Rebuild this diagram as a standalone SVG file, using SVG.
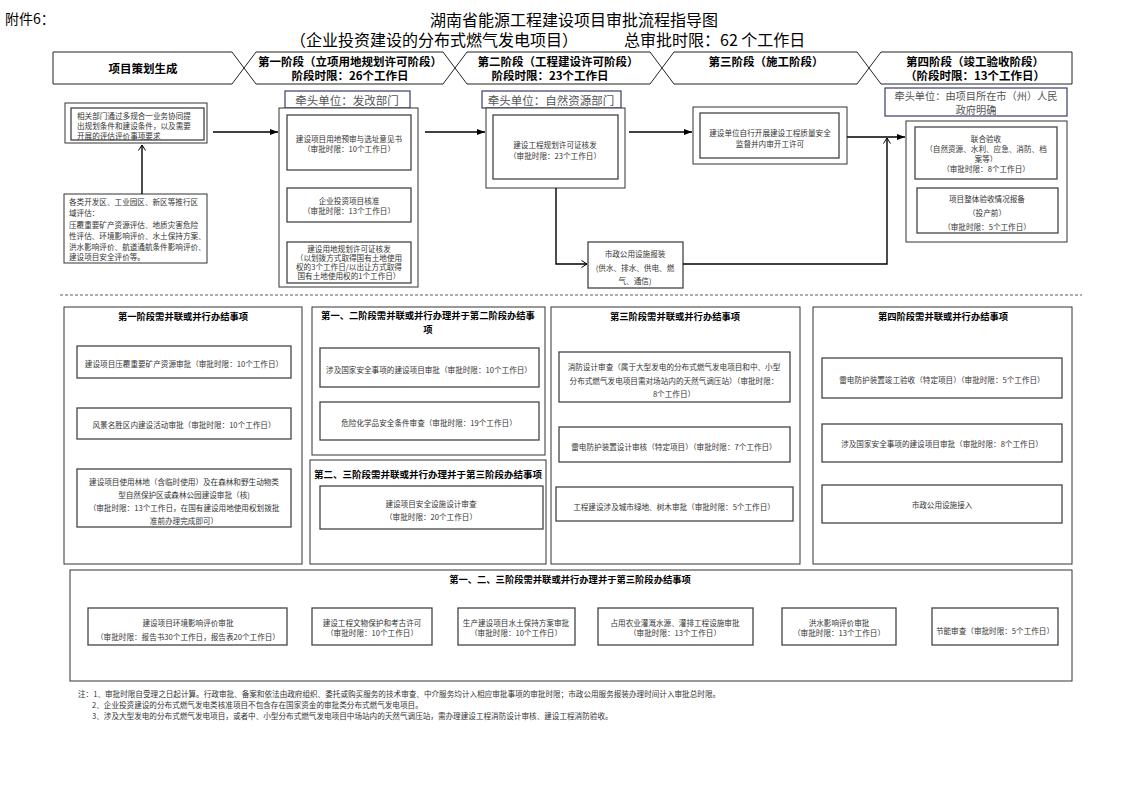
<svg xmlns="http://www.w3.org/2000/svg" width="1122" height="793" viewBox="0 0 1122 793">
<style>
text{font-family:"Noto Sans CJK SC","Liberation Sans",sans-serif;dominant-baseline:central}
.s{font-size:7.6px;fill:#333;text-anchor:middle}
.sl{font-size:7.6px;fill:#333;text-anchor:start}
.h{font-size:11.5px;font-weight:bold;fill:#000;text-anchor:middle}
.bt{font-size:9.3px;font-weight:bold;fill:#000;text-anchor:middle}
.lead{font-size:11.5px;fill:#555;text-anchor:middle}
.box{fill:#fff;stroke:#333;stroke-width:1}
.ibox{fill:#fff;stroke:#444;stroke-width:1.3}
.lbox{fill:#fff;stroke:#3a3a6e;stroke-width:1.2}
.stage{fill:#fff;stroke:#222;stroke-width:1}
.conn{fill:none;stroke:#000;stroke-width:1.4}
</style>
<defs>
<marker id="af" markerWidth="8" markerHeight="6" refX="8" refY="3" orient="auto" markerUnits="userSpaceOnUse"><path d="M0,0 L8,3 L0,6 z" fill="#000"/></marker>
<marker id="ao" markerWidth="7" markerHeight="8" refX="6" refY="4" orient="auto" markerUnits="userSpaceOnUse"><path d="M0.5,0.5 L6,4 L0.5,7.5" fill="none" stroke="#000" stroke-width="1"/></marker>
</defs>
<rect width="1122" height="793" fill="#fff"/>

<g id="header">
<text x="5" y="18" style="font-size:14px;fill:#000">附件6：</text>
<text x="574" y="19" style="font-size:16px;fill:#000;text-anchor:middle">湖南省能源工程建设项目审批流程指导图</text>
<text y="39" style="font-size:16px;fill:#000"><tspan x="290">（企业投资建设的分布式燃气发电项目）</tspan><tspan x="624">总审批时限：62 个工作日</tspan></text>
</g>

<g id="stage0"><path class="stage" d="M53,52 H232 L244,68 L232,84 H53 Z"/><text class="h" x="143" y="68">项目策划生成</text></g>
<g id="stage1"><path class="stage" d="M244,68 L256,52 H443 L455,68 L443,84 H256 Z"/><text class="h" x="350" y="61">第一阶段（立项用地规划许可阶段）</text><text class="h" x="350" y="75">阶段时限：26个工作日</text></g>
<g id="stage2"><path class="stage" d="M455,68 L467,52 H650 L662,68 L650,84 H467 Z"/><text class="h" x="558" y="61">第二阶段（工程建设许可阶段）</text><text class="h" x="550" y="75">阶段时限：23个工作日</text></g>
<g id="stage3"><path class="stage" d="M662,68 L674,52 H857 L869,68 L857,84 H674 Z"/><text class="h" x="766" y="61">第三阶段（施工阶段）</text></g>
<g id="stage4"><path class="stage" d="M869,68 L881,52 H1072 V84 H881 Z"/><text class="h" x="975" y="61">第四阶段（竣工验收阶段）</text><text class="h" x="975" y="75">（阶段时限：13个工作日）</text></g>

<g id="planning">
<rect class="box" x="65" y="103" width="142" height="40"/>
<rect class="ibox" x="71" y="108" width="133" height="32"/>
<text class="sl" x="77" y="115">相关部门通过多规合一业务协同提</text>
<text class="sl" x="77" y="125">出规划条件和建设条件，以及需要</text>
<text class="sl" x="77" y="135">开展的评估评价事项要求</text>
</g>
<g id="regional">
<rect class="box" x="64" y="194" width="143" height="69"/>
<text class="sl" x="69" y="201">各类开发区、工业园区、新区等推行区</text>
<text class="sl" x="69" y="212">域评估：</text>
<text class="sl" x="69" y="224">压覆重要矿产资源评估、地质灾害危险</text>
<text class="sl" x="69" y="235">性评估、环境影响评价、水土保持方案、</text>
<text class="sl" x="69" y="246">洪水影响评价、航道通航条件影响评价、</text>
<text class="sl" x="69" y="256">建设项目安全评价等。</text>
</g>

<g id="s1group">
<rect class="lbox" x="285" y="91" width="125" height="17"/>
<text class="lead" x="347" y="99.5">牵头单位：发改部门</text>
<rect class="box" x="279" y="108" width="139" height="179"/>
<rect class="ibox" x="287" y="115" width="124" height="55"/>
<text class="s" x="349" y="138">建设项目用地预审与选址意见书</text>
<text class="s" x="349" y="148">（审批时限：10个工作日）</text>
<rect class="ibox" x="287" y="188" width="124" height="34"/>
<text class="s" x="349" y="200">企业投资项目核准</text>
<text class="s" x="349" y="210">（审批时限：13个工作日）</text>
<rect class="ibox" x="287" y="242" width="124" height="41"/>
<text class="s" x="349" y="248">建设用地规划许可证核发</text>
<text class="s" x="349" y="257">（以划拨方式取得国有土地使用</text>
<text class="s" x="349" y="266">权的3个工作日/以出让方式取得</text>
<text class="s" x="349" y="275">国有土地使用权的1个工作日）</text>
</g>

<g id="s2group">
<rect class="lbox" x="482" y="91" width="139" height="17"/>
<text class="lead" x="551" y="99.5">牵头单位：自然资源部门</text>
<rect class="box" x="486" y="108" width="139" height="80"/>
<rect class="ibox" x="493" y="115" width="125" height="64"/>
<text class="s" x="555" y="144">建设工程规划许可证核发</text>
<text class="s" x="555" y="155">（审批时限：23个工作日）</text>
</g>

<g id="municipal">
<rect class="ibox" x="588" y="242" width="95" height="46"/>
<text class="s" x="635" y="253">市政公用设施报装</text>
<text class="s" x="635" y="267">(供水、排水、供电、燃</text>
<text class="s" x="635" y="280">气、通信)</text>
</g>

<g id="s3group">
<rect class="box" x="693" y="107" width="154" height="57"/>
<rect class="ibox" x="700" y="113" width="139" height="45"/>
<text class="s" x="770" y="132">建设单位自行开展建设工程质量安全</text>
<text class="s" x="770" y="143">监督并内审开工许可</text>
</g>

<g id="s4group">
<rect class="lbox" x="885" y="88" width="182" height="28"/>
<text class="lead" x="976" y="95.5" style="font-size:10.2px">牵头单位：由项目所在市（州）人民</text>
<text class="lead" x="976" y="109" style="font-size:10.2px">政府明确</text>
<rect class="box" x="906" y="121" width="161" height="121"/>
<rect class="ibox" x="915" y="127" width="142" height="52"/>
<text class="s" x="986" y="138">联合验收</text>
<text class="s" x="986" y="148">（自然资源、水利、应急、消防、档</text>
<text class="s" x="986" y="158">案等）</text>
<text class="s" x="986" y="168">（审批时限：8个工作日）</text>
<rect class="ibox" x="917" y="188" width="141" height="45"/>
<text class="s" x="987" y="198">项目整体验收情况报备</text>
<text class="s" x="987" y="212">（投产前）</text>
<text class="s" x="987" y="226">（审批时限：5个工作日）</text>
</g>

<g id="connectors">
<path class="conn" d="M142,194 V145" marker-end="url(#ao)"/>
<path class="conn" d="M213,132 H278" marker-end="url(#af)"/>
<path class="conn" d="M425,132 H485" marker-end="url(#af)"/>
<path class="conn" d="M556,188 V264 H587" marker-end="url(#ao)"/>
<path class="conn" d="M629,132 H692" marker-end="url(#af)"/>
<path class="conn" d="M683,264 H887 V138" marker-end="url(#ao)"/>
<path class="conn" d="M847,137 H905" marker-end="url(#af)"/>
</g>

<line x1="60" y1="295" x2="1082" y2="295" stroke="#333" stroke-width="0.8" stroke-dasharray="3,2"/>

<g id="p1">
<rect class="box" x="64" y="307" width="238" height="257"/>
<text class="bt" x="183" y="316">第一阶段需并联或并行办结事项</text>
<rect class="ibox" x="77" y="346" width="214" height="32"/>
<text class="s" x="184" y="363">建设项目压覆重要矿产资源审批（审批时限：10个工作日）</text>
<rect class="ibox" x="77" y="408" width="214" height="31"/>
<text class="s" x="184" y="424">风景名胜区内建设活动审批（审批时限：10个工作日）</text>
<rect class="ibox" x="77" y="469" width="214" height="58"/>
<text class="s" x="184" y="481">建设项目使用林地（含临时使用）及在森林和野生动物类</text>
<text class="s" x="184" y="494">型自然保护区或森林公园建设审批（核)</text>
<text class="s" x="184" y="507">（审批时限：13个工作日，在国有建设用地使用权划拨批</text>
<text class="s" x="184" y="520">准前办理完成即可）</text>
</g>

<g id="p12">
<rect class="box" x="312" y="307" width="233" height="148"/>
<text class="bt" x="428" y="315">第一、二阶段需并联或并行办理并于第二阶段办结事</text>
<text class="bt" x="428" y="328.5">项</text>
<rect class="ibox" x="320" y="348" width="219" height="39"/>
<text class="s" x="429" y="369">涉及国家安全事项的建设项目审批（审批时限：10个工作日）</text>
<rect class="ibox" x="320" y="402" width="219" height="38"/>
<text class="s" x="429" y="422">危险化学品安全条件审查（审批时限：19个工作日）</text>
</g>

<g id="p23">
<rect class="box" x="310" y="460" width="236" height="104"/>
<text class="bt" x="428" y="474" style="font-size:9.5px">第二、三阶段需并联或并行办理并于第三阶段办结事项</text>
<rect class="ibox" x="320" y="486" width="223" height="43"/>
<text class="s" x="431" y="503">建设项目安全设施设计审查</text>
<text class="s" x="431" y="516">（审批时限：20个工作日）</text>
</g>

<g id="p3">
<rect class="box" x="551" y="307" width="249" height="257"/>
<text class="bt" x="675" y="316">第三阶段需并联或并行办结事项</text>
<rect class="ibox" x="559" y="352" width="231" height="50"/>
<text class="s" x="674" y="366">消防设计审查（属于大型发电的分布式燃气发电项目和中、小型</text>
<text class="s" x="674" y="380">分布式燃气发电项目需对场站内的天然气调压站）（审批时限：</text>
<text class="s" x="674" y="393">8个工作日）</text>
<rect class="ibox" x="559" y="427" width="231" height="35"/>
<text class="s" x="674" y="446">雷电防护装置设计审核（特定项目）（审批时限：7个工作日）</text>
<rect class="ibox" x="556" y="487" width="237" height="34"/>
<text class="s" x="674" y="506">工程建设涉及城市绿地、树木审批（审批时限：5个工作日）</text>
</g>

<g id="p4">
<rect class="box" x="813" y="307" width="259" height="257"/>
<text class="bt" x="943" y="316">第四阶段需并联或并行办结事项</text>
<rect class="ibox" x="822" y="358" width="240" height="40"/>
<text class="s" x="942" y="379">雷电防护装置竣工验收（特定项目）（审批时限：5个工作日）</text>
<rect class="ibox" x="822" y="424" width="240" height="38"/>
<text class="s" x="942" y="443">涉及国家安全事项的建设项目审批（审批时限：8个工作日）</text>
<rect class="ibox" x="822" y="485" width="240" height="38"/>
<text class="s" x="942" y="504">市政公用设施接入</text>
</g>

<g id="p123">
<rect class="box" x="70" y="570" width="1002" height="111"/>
<text class="bt" x="570" y="579">第一、二、三阶段需并联或并行办理并于第三阶段办结事项</text>
<rect class="ibox" x="88" y="608" width="199" height="37"/>
<text class="s" x="188" y="622">建设项目环境影响评价审批</text>
<text class="s" x="188" y="636">（审批时限：报告书30个工作日，报告表20个工作日）</text>
<rect class="ibox" x="312" y="608" width="120" height="37"/>
<text class="s" x="372" y="622">建设工程文物保护和考古许可</text>
<text class="s" x="372" y="632">（审批时限：10个工作日）</text>
<rect class="ibox" x="458" y="608" width="117" height="37"/>
<text class="s" x="516" y="622">生产建设项目水土保持方案审批</text>
<text class="s" x="516" y="632">（审批时限：10个工作日）</text>
<rect class="ibox" x="598" y="608" width="155" height="37"/>
<text class="s" x="675" y="622">占用农业灌溉水源、灌排工程设施审批</text>
<text class="s" x="675" y="632">（审批时限：13个工作日）</text>
<rect class="ibox" x="782" y="608" width="114" height="37"/>
<text class="s" x="839" y="622">洪水影响评价审批</text>
<text class="s" x="839" y="632">（审批时限：13个工作日）</text>
<rect class="ibox" x="932" y="608" width="126" height="37"/>
<text class="s" x="995" y="630">节能审查（审批时限：5个工作日）</text>
</g>

<g id="notes">
<text class="sl" x="78" y="693">注：1、审批时限自受理之日起计算。行政审批、备案和依法由政府组织、委托或购买服务的技术审查、中介服务均计入相应审批事项的审批时限；市政公用服务报装办理时间计入审批总时限。</text>
<text class="sl" x="92" y="704">2、企业投资建设的分布式燃气发电类核准项目不包含存在国家资金的审批类分布式燃气发电项目。</text>
<text class="sl" x="92" y="715">3、涉及大型发电的分布式燃气发电项目，或者中、小型分布式燃气发电项目中场站内的天然气调压站，需办理建设工程消防设计审核、建设工程消防验收。</text>
</g>
</svg>
